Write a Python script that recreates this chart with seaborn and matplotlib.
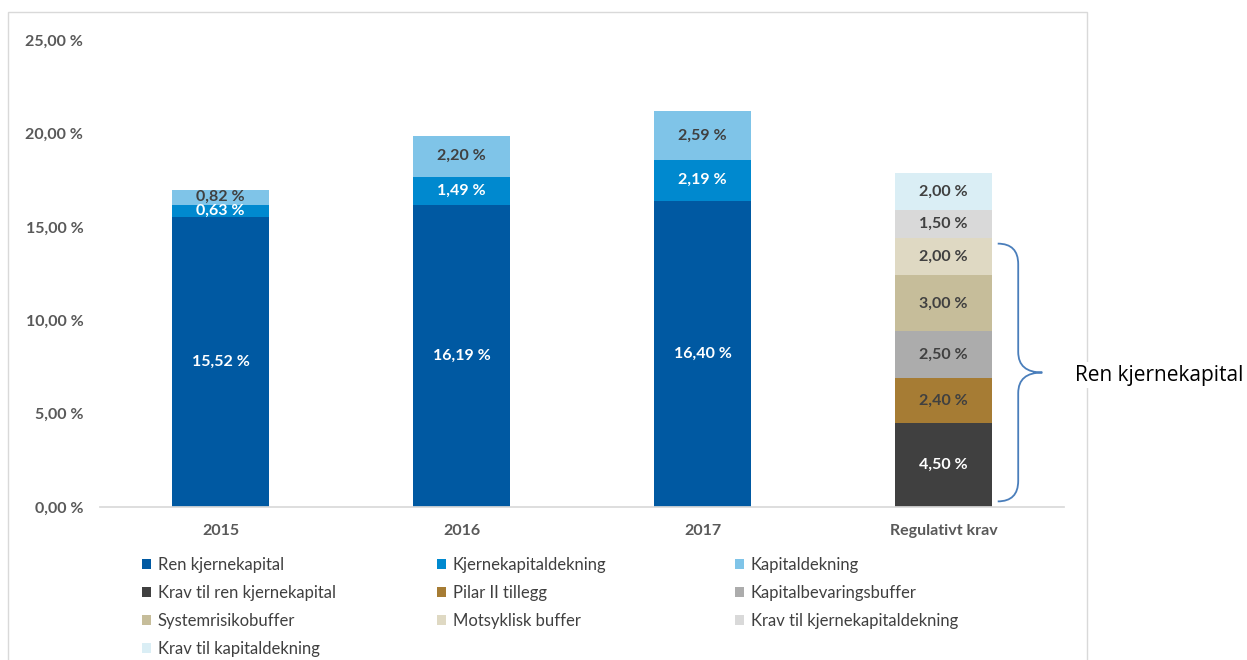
import matplotlib
matplotlib.use("Agg")
import matplotlib.pyplot as plt
from matplotlib.patches import Patch, Rectangle, PathPatch
from matplotlib.path import Path
import seaborn as sns
import pandas as pd
import numpy as np

categories = ["2015", "2016", "2017", "Regulativt krav"]

series_names = ["Ren kjernekapital", "Kjernekapitaldekning", "Kapitaldekning",
                "Krav til ren kjernekapital", "Pilar II tillegg", "Kapitalbevaringsbuffer",
                "Systemrisikobuffer", "Motsyklisk buffer", "Krav til kjernekapitaldekning",
                "Krav til kapitaldekning"]
series_colors = ["#0059A2", "#0089CF", "#7FC4E8",
                 "#404040", "#A67C34", "#ACACAC",
                 "#C6BD9A", "#DFD9C3", "#D9D9D9",
                 "#DAEEF5"]
label_colors = ["white", "white", "#404040",
                "white", "#404040", "#404040",
                "#404040", "#404040", "#404040", "#404040"]

# values per category (series order as stacked bottom->top)
ren_kjernekapital = [15.52, 16.19, 16.40]
kjernekapitaldekning = [0.63, 1.49, 2.19]
kapitaldekning = [0.82, 2.20, 2.59]
regulativt_krav = [4.50, 2.40, 2.50, 3.00, 2.00, 1.50, 2.00]

rows = []
for i, c in enumerate(categories[:3]):
    vals = [ren_kjernekapital[i], kjernekapitaldekning[i], kapitaldekning[i]]
    cum = 0
    for s, v in zip(series_names[:3], vals):
        rows.append(dict(category=c, series=s, value=v, bottom=cum, top=cum + v))
        cum += v
cum = 0
for s, v in zip(series_names[3:], regulativt_krav):
    rows.append(dict(category=categories[3], series=s, value=v, bottom=cum, top=cum + v))
    cum += v
df = pd.DataFrame(rows)

sns.set_theme(style="white")
plt.rcParams["font.family"] = ["Lato", "DejaVu Sans"]

fig = plt.figure(figsize=(12.47, 6.6), dpi=100)
ax = fig.add_axes([100 / 1247, 1 - 507 / 660, 964 / 1247, 467 / 660])

# Draw stacked bars: tallest cumulative layer first
for s in reversed(series_names):
    sub = df[df.series == s]
    col = series_colors[series_names.index(s)]
    sns.barplot(data=sub, x="category", y="top", order=categories, color=col,
                saturation=1, width=0.4, linewidth=0, errorbar=None, ax=ax)

cat_index = {c: i for i, c in enumerate(categories)}
for r in df.itertuples():
    lc = label_colors[series_names.index(r.series)]
    y = r.bottom + r.value / 2
    if r.series == "Kapitaldekning" and r.value < 1:
        y = r.bottom + r.value / 2 + 0.05
    ax.text(cat_index[r.category], y, f"{r.value:.2f} %".replace(".", ","),
            ha="center", va="center", fontsize=11.5, fontweight="bold", color=lc)

ax.set_xlim(-0.5, 3.5)
ax.set_ylim(0, 25)
ax.set_yticks(np.arange(0, 26, 5))
ax.set_yticklabels([f"{t:.2f} %".replace(".", ",") for t in np.arange(0, 26, 5)])
ax.set_xlabel("")
ax.set_ylabel("")
for sp in ["top", "left", "right"]:
    ax.spines[sp].set_visible(False)
ax.spines["bottom"].set_color("#D9D9D9")
ax.tick_params(axis="both", length=0, labelsize=11.5, colors="#595959")
ax.tick_params(axis="y", pad=12)
ax.tick_params(axis="x", pad=12)
for lab in ax.get_xticklabels() + ax.get_yticklabels():
    lab.set_fontweight("bold")

# curly brace
xl, xs, xt = 3.225, 3.31, 3.41
ytop, ybot = 14.1, 0.3
ymid = (ytop + ybot) / 2
d = 1.1
verts = [(xl, ytop), (xs, ytop), (xs, ytop - d),
         (xs, ymid + d),
         (xs, ymid), (xt, ymid),
         (xs, ymid), (xs, ymid - d),
         (xs, ybot + d),
         (xs, ybot), (xl, ybot)]
codes = [Path.MOVETO, Path.CURVE3, Path.CURVE3,
         Path.LINETO,
         Path.CURVE3, Path.CURVE3,
         Path.CURVE3, Path.CURVE3,
         Path.LINETO,
         Path.CURVE3, Path.CURVE3]
ax.add_patch(PathPatch(Path(verts, codes), fill=False, edgecolor="#4A7EBB",
                       linewidth=1.3, clip_on=False))

# outer chart frame
fig.patches.append(Rectangle((8 / 1247, -0.02), (1087 - 8) / 1247, 1 - 12 / 660 + 0.02,
                             transform=fig.transFigure, fill=False,
                             edgecolor="#D9D9D9", linewidth=1, zorder=0))

fig.text(1075 / 1247, 1 - 375 / 660, "Ren kjernekapital", ha="left", va="center",
         fontsize=15, color="black", family=["Open Sans", "DejaVu Sans"],
         bbox=dict(facecolor="white", edgecolor="none", pad=2))

# legend: three columns laid out row-major
handles = [Patch(facecolor=c, edgecolor="none") for c in series_colors]
col_x = [142, 437, 735]
for ci in range(3):
    idx = list(range(ci, len(series_names), 3))
    fig.legend([handles[i] for i in idx], [series_names[i] for i in idx],
               loc="upper left", bbox_to_anchor=(col_x[ci] / 1247, 1 - 557 / 660),
               frameon=False, fontsize=12, handlelength=0.55, handleheight=0.55,
               handletextpad=0.4, labelspacing=0.72, borderpad=0, borderaxespad=0,
               labelcolor="#404040")

fig.savefig("out.png", dpi=100)
